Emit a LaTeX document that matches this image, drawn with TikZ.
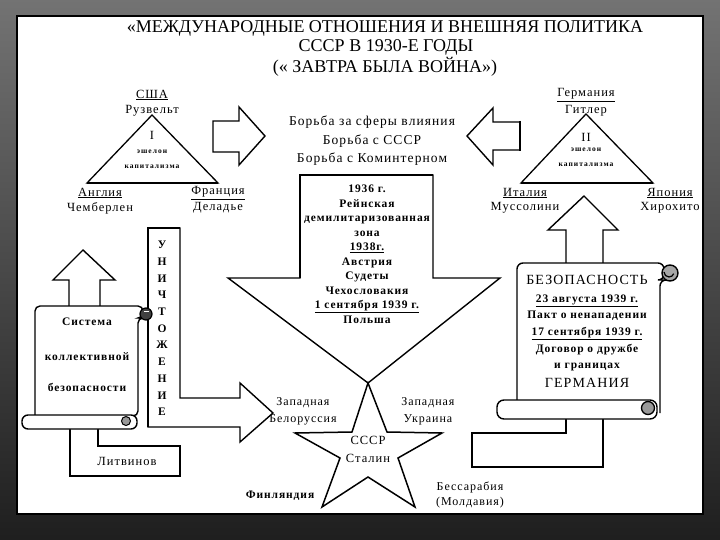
\documentclass[tikz,border=0pt]{standalone}
\usepackage{fontspec}
\setmainfont{Liberation Serif}
\newfontfamily\ls[LetterSpace=8]{Liberation Serif}
\newfontfamily\lsw[LetterSpace=14]{Liberation Serif}
\begin{document}
\begin{tikzpicture}[x=1pt,y=-1pt,
  shp/.style={draw=black,line width=1.4pt,fill=white,line join=miter},
  thk/.style={draw=black,line width=2.6pt},
  lbl/.style={inner sep=0pt,font=\ls\fontsize{12.5}{15}\selectfont},
  blbl/.style={inner sep=0pt,font=\ls\bfseries\fontsize{11.5}{14.5}\selectfont},
  tiny/.style={inner sep=0pt,font=\lsw\bfseries\fontsize{7.5}{9}\selectfont},
  ttl/.style={inner sep=0pt,font=\fontsize{18}{21}\selectfont}]
\useasboundingbox (0,0) rectangle (720,540);
% frame
\shade[top color=black!55,bottom color=black!88] (0,0) rectangle (720,540);
\fill[black] (16,15) rectangle (704,515);
\fill[white] (18,17) rectangle (702,513);

% title
\node[ttl] (t1) at (385,28) {«МЕЖДУНАРОДНЫЕ ОТНОШЕНИЯ И ВНЕШНЯЯ ПОЛИТИКА};
\node[ttl] (t2) at (386,47) {СССР В 1930-Е ГОДЫ};
\node[ttl] (t3) at (385,67) {(« ЗАВТРА БЫЛА ВОЙНА»)};

% left triangle
\draw[line width=1.3pt,line join=miter] (152,115) -- (87,183) -- (218,183) -- cycle;
\draw[thk] (87,183) -- (218,183);
\node[lbl] (usa) at (152,95) {\underline{США}};
\node[lbl] (roos) at (152,111) {Рузвельт};
\node[lbl] (e1) at (152,135) {I};
\node[tiny] (e1a) at (152,152) {эшелон};
\node[tiny] (e1b) at (152,167) {капитализма};
\node[lbl] (eng) at (100,193) {\underline{Англия}};
\node[lbl] (cham) at (100,208) {Чемберлен};
\node[lbl] (fra) at (218,193) {\underline{Франция}};
\node[lbl] (dal) at (218,208) {Деладье};

% right triangle
\draw[line width=1.3pt,line join=miter] (586,114) -- (521,183) -- (653,183) -- cycle;
\draw[thk] (521,183) -- (653,183);
\node[lbl] (ger) at (586,95) {\underline{Германия}};
\node[lbl] (hit) at (586,111) {Гитлер};
\node[lbl] (e2) at (586,137) {II};
\node[tiny] (e2a) at (586,150) {эшелон};
\node[tiny] (e2b) at (586,165) {капитализма};
\node[lbl] (ita) at (525,193) {\underline{Италия}};
\node[lbl] (mus) at (525,208) {Муссолини};
\node[lbl] (jap) at (670,193) {\underline{Япония}};
\node[lbl] (hir) at (670,208) {Хирохито};

% side arrows
\draw[shp] (213,121) -- (239,121) -- (239,107) -- (265,136) -- (239,165) -- (239,152) -- (213,152) -- cycle;
\draw[shp] (520,122) -- (493,122) -- (493,108) -- (467,136) -- (493,165) -- (493,150) -- (520,150) -- cycle;
\draw[thk] (520,121) -- (520,151);
\node[lbl,align=center,font=\ls\fontsize{13.5}{18.5}\selectfont] (fight) at (372,141)
  {Борьба за сферы влияния\\Борьба с СССР\\Борьба с Коминтерном};

% big down arrow
\draw[shp] (300,175) -- (433,175) -- (433,278) -- (500,278) -- (368,383) -- (228,278) -- (300,278) -- cycle;
\draw[thk] (300,278) -- (300,175) -- (433,175);
\node[blbl,align=center] (agg) at (367,254)
  {1936 г.\\Рейнская\\демилитаризованная\\зона\\\underline{1938г.}\\Австрия\\Судеты\\Чехословакия\\\underline{1 сентября 1939 г.}\\Польша};

% star
\draw[line width=1.5pt,fill=white,line join=miter] (368,383) -- (387,432) -- (442,433) -- (398,458) -- (415,507) -- (368,477) -- (322,507) -- (340,458) -- (295,433) -- (352,432) -- cycle;
\node[lbl] (ussr) at (368,440) {СССР};
\node[lbl] (stal) at (368,458) {Сталин};
\node[lbl,align=center,font=\ls\fontsize{12}{17}\selectfont] (wb) at (303,411) {Западная\\Белоруссия};
\node[lbl,align=center,font=\ls\fontsize{12}{17}\selectfont] (wu) at (428,411) {Западная\\Украина};
\node[lbl,font=\ls\bfseries\fontsize{11.5}{13}\selectfont] (fin) at (280,496) {Финляндия};
\node[lbl,align=center,font=\ls\fontsize{12}{15}\selectfont] (bes) at (470,495) {Бессарабия\\(Молдавия)};

% destruction L-arrow
\draw[shp] (148,228) -- (180,228) -- (180,398) -- (240,398) -- (240,383) -- (273,413) -- (240,442) -- (240,427) -- (148,427) -- cycle;
\draw[thk] (148,427) -- (148,228) -- (180,228);
\foreach \l [count=\i from 0] in {У,Н,И,Ч,Т,О,Ж,Е,Н,И,Е}
  \node[blbl] (u\i) at (162,245+16.7*\i) {\l};

% left up arrow
\draw[shp] (69,310) -- (69,280) -- (53,280) -- (83,250) -- (115,280) -- (100,280) -- (100,310);
% Litvinov box
\draw[shp] (98,426) -- (98,446) -- (180,446) -- (180,476) -- (70,476) -- (70,426);
\draw[thk] (70,428) -- (70,476) -- (180,476);
\node[lbl] (lit) at (127,461) {Литвинов};
% left scroll
\draw[shp,rounded corners=5pt] (35,416) -- (35,306) -- (143,306) -- (143,318) -- (138,318) |- (35,416);
\draw[line width=1.2pt,fill=black!75] (146,314) circle (6);
\draw[white,line width=0.8pt] (144,311) -- (149,311);
\draw[shp,rounded corners=6pt] (22,415) rectangle (137,429);
\draw[line width=1pt,fill=black!40] (126,421) circle (4.5);
\node[blbl] (s1) at (87,322) {Система};
\node[blbl] (s2) at (87,357) {коллективной};
\node[blbl] (s3) at (87,387) {безопасности};

% right up arrow
\draw[shp] (566,266) -- (566,230) -- (548,230) -- (584,196) -- (618,230) -- (603,230) -- (603,266);
% right bottom box
\draw[shp] (566,418) -- (566,433) -- (472,433) -- (472,467) -- (603,467) -- (603,418);
\draw[thk] (472,433) -- (472,467) -- (603,467);
% right scroll
\draw[shp,rounded corners=6pt] (517,402) -- (517,263) -- (664,263) -- (664,280) -- (660,280) -- (660,413);
\draw[line width=1.4pt,fill=black!35] (670,273) circle (8);
\draw[line width=1.2pt] (664,272) arc[start angle=180,end angle=20,radius=5];
\draw[shp,rounded corners=7pt] (497,400) rectangle (657,419);
\draw[line width=1.3pt,fill=black!40] (648,408) circle (6.5);
\node[lbl,font=\ls\fontsize{14}{16}\selectfont] (bez) at (587,280) {БЕЗОПАСНОСТЬ};
\node[blbl,align=center,font=\ls\bfseries\fontsize{11.5}{16.7}\selectfont] (pact) at (587,333)
  {\underline{23 августа 1939 г.}\\Пакт о ненападении\\\underline{17 сентября 1939 г.}\\Договор о дружбе\\и границах};
\node[lbl,font=\ls\fontsize{14}{16}\selectfont] (germ) at (587,383) {ГЕРМАНИЯ};
\end{tikzpicture}
\end{document}
